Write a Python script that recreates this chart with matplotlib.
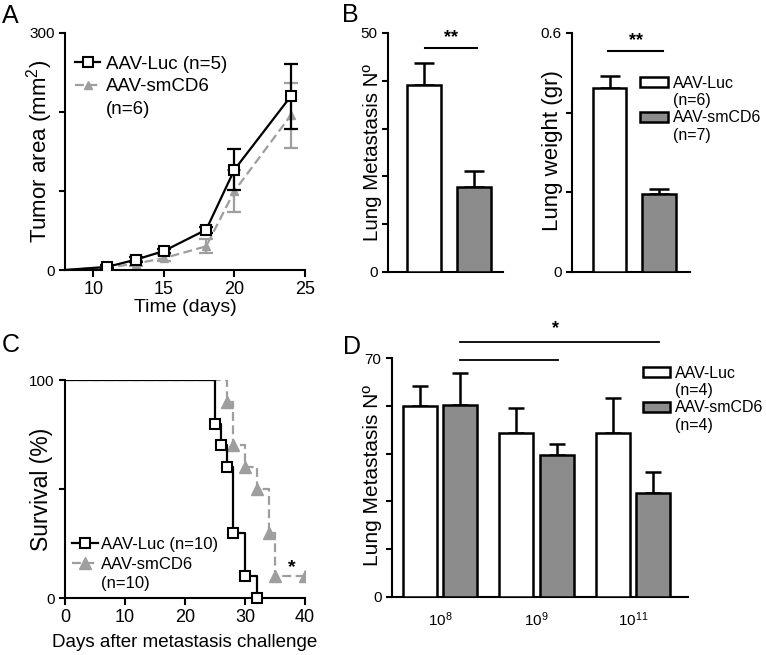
import numpy as np
import matplotlib
matplotlib.use('Agg')
import matplotlib.pyplot as plt
from matplotlib.patches import Rectangle
from matplotlib.lines import Line2D

plt.rcParams['font.family'] = ['Liberation Sans', 'DejaVu Sans']
plt.rcParams['mathtext.fontset'] = 'custom'
plt.rcParams['mathtext.rm'] = 'Liberation Sans'
plt.rcParams['axes.linewidth'] = 1.5
plt.rcParams['xtick.major.width'] = 1.5
plt.rcParams['ytick.major.width'] = 1.5
plt.rcParams['xtick.major.size'] = 5
plt.rcParams['ytick.major.size'] = 4

#%% datos
# A - tumor area
dias = [8, 11, 13, 15, 18, 20, 24]
luc_area = [0, 4, 13, 24, 51, 127, 220]
luc_area_err = [0, 2, 3, 3, 4, 26, 41]
cd6_area = [0, 3, 8, 15, 30, 100, 196]
cd6_area_err = [0, 2, 3, 4, 9, 26, 41]

# B - metastasis y peso pulmonar
met_n = [39.2, 17.8]
met_err = [4.5, 3.4]
peso = [0.462, 0.195]
peso_err = [0.031, 0.013]

# C - supervivencia
t_luc = [0, 25, 26, 27, 28, 30, 32]
s_luc = [100, 80, 70, 60, 30, 10, 0]
t_cd6 = [0, 27, 28, 30, 32, 34, 35, 40]
s_cd6 = [100, 90, 70, 60, 50, 30, 10, 10]

# D - dosis
dosis = ['$\\mathregular{10^{8}}$', '$\\mathregular{10^{9}}$', '$\\mathregular{10^{11}}$']
d_luc = [56, 48, 48]
d_luc_err = [5.7, 7.5, 10.2]
d_cd6 = [56.2, 41.5, 30.5]
d_cd6_err = [9.4, 3.3, 6.1]

gris_barra = '#8c8c8c'
gris_linea = '#9e9e9e'

W, H = 766, 655
fig = plt.figure(figsize=(W/100, H/100), dpi=100)

def ejes(izq, der, arriba, abajo):
    return fig.add_axes([izq/W, 1-abajo/H, (der-izq)/W, (abajo-arriba)/H])

def limpiar(ax):
    ax.spines['top'].set_visible(False)
    ax.spines['right'].set_visible(False)
    ax.tick_params(axis='y', labelsize=11)
    ax.tick_params(axis='x', labelsize=13, pad=3)

vacio_p = Rectangle((0, 0), 1, 1, facecolor='none', edgecolor='none')
vacio_l = Line2D([], [], color='none')

#%% Panel A
axA = ejes(65, 305, 33, 270)
limpiar(axA)
axA.plot(dias, cd6_area, color=gris_linea, ls='--', dashes=(4, 2), lw=1.6,
         marker='^', ms=6, mfc=gris_linea, mec=gris_linea, markevery=slice(1, None), zorder=2)
axA.errorbar(dias[1:], cd6_area[1:], yerr=cd6_area_err[1:], fmt='none',
             ecolor=gris_linea, elinewidth=1.6, capsize=5, capthick=1.6, zorder=2)
axA.plot(dias, luc_area, color='black', lw=1.6, marker='s', ms=7, mfc='white',
         mec='black', mew=1.5, markevery=slice(1, None), zorder=4)
axA.errorbar(dias[1:], luc_area[1:], yerr=luc_area_err[1:], fmt='none',
             ecolor='black', elinewidth=1.6, capsize=5, capthick=1.6, zorder=3)
axA.set_xlim(8, 25)
axA.set_ylim(0, 300)
axA.set_xticks([10, 15, 20, 25])
axA.set_yticks([0, 100, 200, 300])
axA.set_yticklabels(['0', '', '', '300'])
axA.set_xlabel('Time (days)', fontsize=14, labelpad=1)
axA.set_ylabel('Tumor area (mm$\\mathregular{^2}$)', fontsize=16)
axA.yaxis.set_label_coords(-0.042, 0.5)
hA1 = Line2D([], [], color='black', lw=1.6, marker='s', ms=7, mfc='white', mec='black', mew=1.5)
hA2 = Line2D([], [], color=gris_linea, ls='--', dashes=(4, 2), lw=1.6, marker='^', ms=6)
axA.legend([hA1, hA2, vacio_l], ['AAV-Luc (n=5)', 'AAV-smCD6', '(n=6)'], loc='upper left',
           bbox_to_anchor=(0.042, 0.905), frameon=False, fontsize=13.5, handlelength=1.33,
           handletextpad=0.3, borderaxespad=0, borderpad=0, labelspacing=0.3)

#%% Panel B
axB1 = ejes(388, 503, 33, 272)
limpiar(axB1)
axB1.bar([1, 2], met_n, width=0.68, color=['white', gris_barra], edgecolor='black',
         lw=1.8, zorder=3)
axB1.errorbar([1, 2], met_n, yerr=[[0, 0], met_err], fmt='none', ecolor='black',
              elinewidth=1.8, capsize=7, capthick=1.8, zorder=2)
axB1.set_xlim(0.28, 2.58)
axB1.set_ylim(0, 50)
axB1.set_xticks([])
axB1.set_yticks([0, 10, 20, 30, 40, 50])
axB1.set_yticklabels(['0', '', '', '', '', '50'])
axB1.set_ylabel('Lung Metastasis Nº', fontsize=14.8)
axB1.yaxis.set_label_coords(-0.052, 0.498)
axB1.plot([1.02, 2.06], [46.9, 46.9], color='black', lw=1.5, clip_on=False)
axB1.text(1.54, 47.3, '**', ha='center', va='bottom', fontsize=13, fontweight='bold')

axB2 = ejes(572, 690, 33, 272)
limpiar(axB2)
b = axB2.bar([1, 2], peso, width=0.69, color=['white', gris_barra], edgecolor='black',
             lw=1.8, zorder=3)
axB2.errorbar([1, 2], peso, yerr=[[0, 0], peso_err], fmt='none', ecolor='black',
              elinewidth=1.8, capsize=7, capthick=1.8, zorder=2)
axB2.set_xlim(0.235, 2.64)
axB2.set_ylim(0, 0.6)
axB2.set_xticks([])
axB2.set_yticks([0, 0.2, 0.4, 0.6])
axB2.set_yticklabels(['0', '', '', '0.6'])
axB2.set_ylabel('Lung weight (gr)', fontsize=16)
axB2.yaxis.set_label_coords(-0.076, 0.51)
axB2.plot([0.97, 2.09], [0.555, 0.555], color='black', lw=1.5, clip_on=False)
axB2.text(1.53, 0.56, '**', ha='center', va='bottom', fontsize=13, fontweight='bold')
axB2.legend([b[0], vacio_p, b[1], vacio_p], ['AAV-Luc', '(n=6)', 'AAV-smCD6', '(n=7)'],
            loc='upper left', bbox_to_anchor=(0.576, 0.822), frameon=False, fontsize=11.5,
            handlelength=1.75, handleheight=0.6, handletextpad=0.3, labelspacing=0.15,
            borderaxespad=0, borderpad=0)

#%% Panel C
axC = ejes(65, 305, 380, 598)
limpiar(axC)
axC.step(t_cd6, s_cd6, where='post', color=gris_linea, ls='--', dashes=(4, 2), lw=1.6,
         zorder=2)
axC.plot(t_cd6[1:], s_cd6[1:], ls='none', marker='^', ms=8, color=gris_linea, zorder=2)
axC.step(t_luc, s_luc, where='post', color='black', lw=1.6, zorder=3)
axC.plot(t_luc[1:], s_luc[1:], ls='none', marker='s', ms=7, mfc='white', mec='black',
         mew=1.5, zorder=4, clip_on=False)
hC1 = Line2D([], [], color='black', lw=1.6, marker='s', ms=7, mfc='white', mec='black', mew=1.5)
hC2 = Line2D([], [], color=gris_linea, ls='--', dashes=(4, 2), lw=1.6, marker='^', ms=8)
axC.text(37.8, 14, '*', ha='center', va='center', fontsize=14, fontweight='bold')
axC.set_xlim(0, 40)
axC.set_ylim(0, 100)
axC.set_xticks([0, 10, 20, 30, 40])
axC.set_yticks([0, 50, 100])
axC.set_yticklabels(['0', '', '100'])
axC.set_xlabel('Days after metastasis challenge', fontsize=13.5, labelpad=6)
axC.set_ylabel('Survival (%)', fontsize=16.5)
axC.yaxis.set_label_coords(-0.05, 0.5)
axC.legend([hC1, hC2, vacio_l], ['AAV-Luc (n=10)', 'AAV-smCD6', '(n=10)'], loc='lower left',
           bbox_to_anchor=(0.03, 0.03), frameon=False, fontsize=12, handlelength=1.55,
           handletextpad=0.2, labelspacing=0.29, borderaxespad=0, borderpad=0)

#%% Panel D
axD = ejes(392, 688, 358, 597)
limpiar(axD)
x = np.arange(len(dosis))
b1 = axD.bar(x - 0.21, d_luc, width=0.35, color='white', edgecolor='black', lw=1.8,
             zorder=3)
b2 = axD.bar(x + 0.21, d_cd6, width=0.35, color=gris_barra, edgecolor='black', lw=1.8,
             zorder=3)
axD.errorbar(x - 0.21, d_luc, yerr=[np.zeros(3), d_luc_err], fmt='none', ecolor='black',
             elinewidth=1.8, capsize=6, capthick=1.8, zorder=2)
axD.errorbar(x + 0.21, d_cd6, yerr=[np.zeros(3), d_cd6_err], fmt='none', ecolor='black',
             elinewidth=1.8, capsize=6, capthick=1.8, zorder=2)
axD.set_xlim(-0.497, 2.57)
axD.set_ylim(0, 70)
axD.set_xticks(x)
axD.set_xticklabels(dosis, fontsize=11)
axD.tick_params(axis='x', length=0, pad=10)
axD.set_yticks([0, 14, 28, 42, 56, 70])
axD.set_yticklabels(['0', '', '', '', '', '70'])
axD.set_ylabel('Lung Metastasis Nº', fontsize=15)
axD.yaxis.set_label_coords(-0.034, 0.51)
axD.plot([0.21, 2.27], [74.7, 74.7], color='black', lw=1.3, clip_on=False)
axD.plot([0.21, 1.22], [69.4, 69.4], color='black', lw=1.3, clip_on=False)
axD.text(1.2, 76, '*', ha='center', va='bottom', fontsize=13, fontweight='bold')
axD.legend([b1, vacio_p, b2, vacio_p], ['AAV-Luc', '(n=4)', 'AAV-smCD6', '(n=4)'],
           loc='upper left', bbox_to_anchor=(0.848, 0.968), frameon=False, fontsize=11.5,
           handlelength=1.7, handleheight=0.6, handletextpad=0.3, labelspacing=0.15,
           borderaxespad=0, borderpad=0)

#%% letras de panel
for letra, px, py in [('A', 2, 16), ('B', 342, 15), ('C', 2, 345), ('D', 343, 347)]:
    fig.text(px/W, 1-py/H, letra, fontsize=18, va='center', ha='left')

fig.savefig('out.png', dpi=100)
